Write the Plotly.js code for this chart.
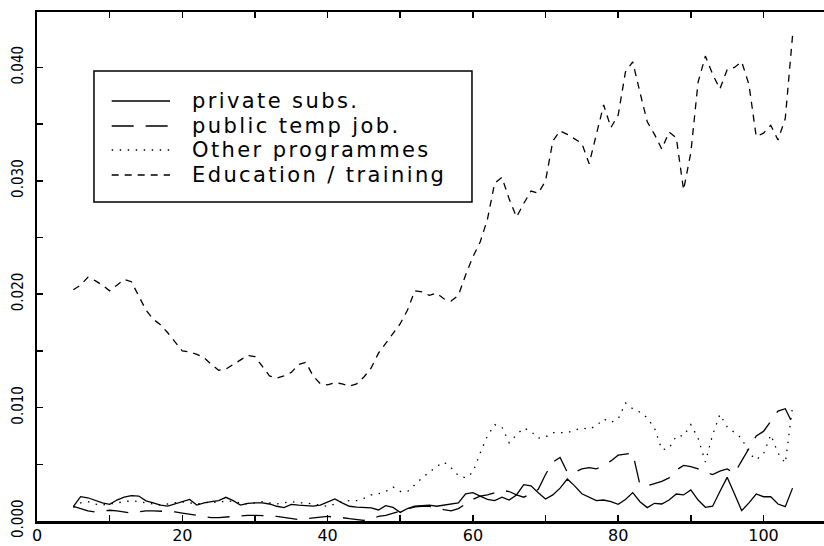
<!DOCTYPE html>
<html><head><meta charset="utf-8">
<script src="https://cdn.plot.ly/plotly-3.0.1.min.js"></script>
<style>html,body{margin:0;padding:0;background:#fff}#chart{width:824px;height:546px}
.annotation-text{letter-spacing:2.4px}</style>
</head><body><div id="chart"></div>
<script>
// ---------- data ----------
const periods = [5,6,7,8,9,10,11,12,13,14,15,16,17,18,19,20,21,22,23,24,25,26,27,28,29,30,31,32,33,34,35,36,37,38,39,40,41,42,43,44,45,46,47,48,49,50,51,52,53,54,55,56,57,58,59,60,61,62,63,64,65,66,67,68,69,70,71,72,73,74,75,76,77,78,79,80,81,82,83,84,85,86,87,88,89,90,91,92,93,94,95,96,97,98,99,100,101,102,103,104];

const privateSubs = [0.00126,0.00214,0.00205,0.00185,0.0016,0.00147,0.00185,0.0021,0.00223,0.0022,
0.00178,0.0016,0.0014,0.00132,0.0015,0.00172,0.0019,0.00141,0.0016,0.0017,
0.0018,0.00209,0.0018,0.0014,0.00155,0.0016,0.0016,0.0015,0.0013,0.00118,
0.00147,0.0014,0.00135,0.00132,0.0014,0.0017,0.00194,0.0016,0.0013,0.00122,
0.00118,0.00115,0.00097,0.00135,0.0012,0.00076,0.0011,0.0013,0.00135,0.0014,
0.0013,0.0014,0.0015,0.0016,0.0024,0.0025,0.0022,0.0019,0.0018,0.0021,
0.00185,0.0023,0.0032,0.0031,0.0025,0.00194,0.0023,0.0029,0.0037,0.0031,
0.0024,0.0021,0.0018,0.00185,0.0017,0.00147,0.0019,0.0025,0.0017,0.00118,
0.00156,0.0015,0.00185,0.00238,0.0023,0.00274,0.00185,0.00121,0.0013,0.0026,
0.00385,0.0024,0.00091,0.0016,0.00238,0.00214,0.00214,0.0015,0.00126,0.0029];

const publicTemp = [0.0013,0.0011,0.0009,0.0008,0.0009,0.00095,0.0009,0.0008,0.0007,0.0008,
0.0009,0.0009,0.00088,0.00085,0.0008,0.0007,0.0006,0.00045,0.00035,0.0003,
0.0003,0.00035,0.00042,0.0005,0.0005,0.0005,0.0005,0.00045,0.0004,0.0003,
0.0002,0.00012,0.0002,0.0003,0.00035,0.0004,0.00038,0.0003,0.0002,0.0001,
0.00005,0.0002,0.0004,0.0005,0.0007,0.0009,0.0011,0.00125,0.0013,0.0013,
0.0012,0.001,0.0009,0.0011,0.0015,0.0019,0.0022,0.0023,0.0025,0.0027,
0.0026,0.0023,0.0021,0.0024,0.0028,0.0041,0.0052,0.0056,0.0043,0.0043,
0.0046,0.0047,0.0046,0.0049,0.0053,0.0058,0.0059,0.006,0.0032,0.0031,
0.0033,0.0035,0.0038,0.0045,0.0049,0.0048,0.0046,0.0043,0.0041,0.0044,
0.0046,0.0042,0.0053,0.0064,0.0075,0.0079,0.0088,0.0097,0.0099,0.0086];

const otherProg = [0.0012,0.0016,0.0017,0.0015,0.0014,0.0015,0.0016,0.0017,0.0018,0.0017,
0.0016,0.0015,0.0014,0.0015,0.0016,0.0017,0.0016,0.0015,0.0016,0.0017,
0.0016,0.0018,0.0017,0.0016,0.0015,0.0016,0.0017,0.0016,0.0015,0.0016,
0.0017,0.0016,0.0016,0.0015,0.0014,0.0013,0.0015,0.0017,0.0018,0.0018,
0.002,0.0023,0.0024,0.0026,0.003,0.0026,0.0026,0.0032,0.0038,0.0043,
0.0048,0.0052,0.0047,0.004,0.0038,0.0043,0.006,0.0075,0.0085,0.0083,
0.0069,0.0076,0.0082,0.0079,0.0073,0.0074,0.0078,0.0078,0.0078,0.008,
0.0082,0.0081,0.0084,0.009,0.0087,0.009,0.0104,0.0099,0.0096,0.0091,
0.0082,0.0063,0.0064,0.0075,0.0075,0.0085,0.0073,0.0052,0.0076,0.0094,
0.0083,0.0078,0.0073,0.006,0.0054,0.0059,0.0076,0.006,0.0051,0.0101];

const education = [0.0204,0.0208,0.0215,0.0212,0.0208,0.0203,0.0208,0.0213,0.0211,0.0198,
0.0186,0.0178,0.0173,0.0166,0.0158,0.015,0.0149,0.0147,0.0144,0.0138,
0.0133,0.0134,0.0138,0.0142,0.0146,0.0145,0.0136,0.0128,0.0126,0.0128,
0.0131,0.0138,0.014,0.0128,0.0121,0.012,0.0122,0.0121,0.0119,0.0121,
0.0127,0.0135,0.0148,0.0157,0.0165,0.0174,0.0186,0.0203,0.0202,0.0199,
0.0201,0.0196,0.0194,0.0199,0.0217,0.0233,0.0246,0.0266,0.0298,0.0303,
0.0284,0.0268,0.028,0.0291,0.0289,0.03,0.0335,0.0344,0.0341,0.0337,
0.0333,0.0315,0.034,0.0367,0.0347,0.0358,0.0396,0.0405,0.0378,0.0352,
0.0341,0.0328,0.0343,0.0338,0.0292,0.0325,0.0387,0.041,0.0394,0.0381,
0.0398,0.04,0.0405,0.0385,0.0339,0.0342,0.0349,0.0336,0.0355,0.0428];

const seriesNames = ['private subs.', 'public temp job.', 'Other programmes', 'Education / training'];
const xTickVals = [0,10,20,30,40,50,60,70,80,90,100];
const xTickText = ['0','','20','','40','','60','','80','','100'];
const yTickVals = [0,0.005,0.010,0.015,0.020,0.025,0.030,0.035,0.040];
const yTickText = ['0.000','','0.010','','0.020','','0.030','','0.040'];

// ---------- styles ----------
const seriesValues = [privateSubs, publicTemp, otherProg, education];
const dashes = ['solid', '22px,12px', '1.5px,6.5px', '7px,6px'];
const LW = 1.3;

const traces = seriesValues.map((vals, i) => ({
  type: 'scatter', mode: 'lines', x: periods, y: vals, name: seriesNames[i],
  line: {color: '#000', width: LW, dash: dashes[i]}, showlegend: false, hoverinfo: 'skip'
}));

// manual legend (paper coordinates)
const legX0 = 0.0724, legX1 = 0.5527, legY0 = 0.6267, legY1 = 0.8841;
const rowY = [0.8251, 0.776, 0.7289, 0.6798];
const shapes = [{type:'rect', xref:'paper', yref:'paper', x0:legX0, x1:legX1, y0:legY0, y1:legY1,
  line:{color:'#000', width:1.5}, fillcolor:'rgba(0,0,0,0)'}];
const annotations = [];
seriesNames.forEach((nm, i) => {
  shapes.push({type:'line', xref:'paper', yref:'paper', x0:0.0949, x1:0.169, y0:rowY[i], y1:rowY[i],
    line:{color:'#000', width:LW, dash:dashes[i]}});
  annotations.push({xref:'paper', yref:'paper', x:0.1944, y:rowY[i], text:nm, showarrow:false,
    xanchor:'left', yanchor:'middle', align:'left',
    font:{family:'DejaVu Sans', size:21, color:'#000'}});
});

const layout = {
  width: 824, height: 546,
  margin: {l: 37, r: 0, t: 12, b: 25, pad: 0},
  paper_bgcolor: '#fff', plot_bgcolor: '#fff',
  showlegend: false,
  xaxis: {range: [0, 108.33], tickmode: 'array', tickvals: xTickVals, ticktext: xTickText,
    ticks: 'inside', ticklen: 6, tickwidth: 1.5, tickcolor: '#000',
    showline: true, linewidth: 2.5, linecolor: '#000', mirror: 'ticks',
    showgrid: false, zeroline: false, ticklabelstandoff: -2,
    tickfont: {family: 'DejaVu Sans', size: 16, color: '#000'}},
  yaxis: {range: [0, 0.04489], tickmode: 'array', tickvals: yTickVals, ticktext: yTickText,
    tickangle: -90, ticks: 'inside', ticklen: 6, tickwidth: 1.5, tickcolor: '#000',
    showline: true, linewidth: 2.5, linecolor: '#000',
    showgrid: false, zeroline: false, ticklabelstandoff: 6,
    tickfont: {family: 'DejaVu Sans Condensed, Liberation Sans Narrow, DejaVu Sans', size: 15, color: '#000'}},
  shapes: shapes,
  annotations: annotations
};

Plotly.newPlot('chart', traces, layout, {displayModeBar: false, staticPlot: true});
</script></body></html>
